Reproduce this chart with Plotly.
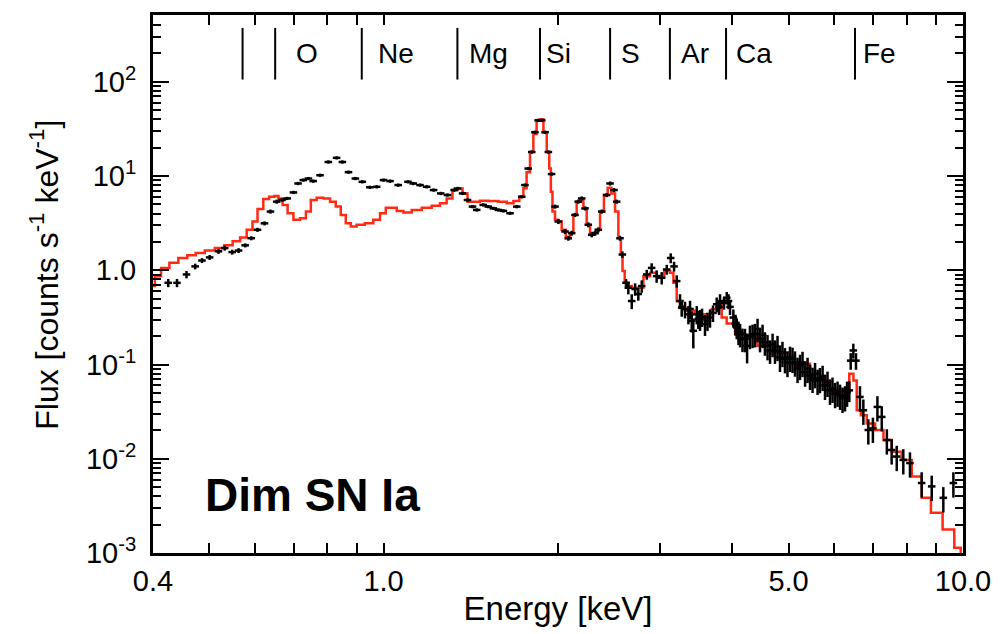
import math
import plotly.graph_objects as go

# ---- model spectrum (red step curve): energy [keV], flux [counts s^-1 keV^-1]
model_energy = [
    0.400, 0.406, 0.420, 0.434, 0.451, 0.466, 0.482, 0.501, 0.522, 0.540,
    0.558, 0.573, 0.588, 0.600, 0.612, 0.628, 0.641, 0.654, 0.663, 0.676,
    0.690, 0.708, 0.727, 0.742, 0.756, 0.777, 0.798, 0.819, 0.835, 0.852,
    0.869, 0.887, 0.910, 0.947, 0.973, 0.999, 1.019, 1.040, 1.068, 1.096,
    1.141, 1.187, 1.235, 1.268, 1.302, 1.328, 1.355, 1.382, 1.410, 1.448,
    1.486, 1.547, 1.610, 1.653, 1.698, 1.732, 1.754, 1.777, 1.802, 1.825,
    1.849, 1.875, 1.900, 1.925, 1.938, 1.950, 1.963, 1.990, 2.016, 2.043,
    2.084, 2.112, 2.140, 2.168, 2.198, 2.227, 2.256, 2.287, 2.318, 2.348,
    2.380, 2.421, 2.453, 2.492, 2.526, 2.559, 2.576, 2.593, 2.621, 2.663,
    2.698, 2.771, 2.846, 2.922, 3.000, 3.101, 3.143, 3.185, 3.226, 3.270,
    3.358, 3.517, 3.635, 3.733, 3.808, 3.858, 3.962, 4.124, 4.288, 4.551,
    4.832, 5.232, 5.664, 6.136, 6.300, 6.428, 6.512, 6.598, 6.730, 6.913,
    7.193, 7.389, 7.685, 7.997, 8.321, 8.659, 8.951, 9.501, 9.820, 10.0,
]
model_flux = [
    0.68, 0.867, 1.06, 1.20, 1.35, 1.44, 1.53, 1.62, 1.72, 1.84,
    2.03, 2.23, 2.69, 3.29, 4.48, 5.71, 6.04, 6.14, 5.79, 4.94,
    4.03, 3.43, 3.57, 4.20, 5.57, 5.89, 5.79, 5.35, 4.74, 3.87,
    3.16, 2.92, 3.04, 3.16, 3.43, 4.03, 4.62, 4.62, 4.27, 4.10,
    4.37, 4.62, 4.85, 5.13, 5.79, 7.10, 7.38, 6.54, 5.35, 5.35,
    5.48, 5.44, 5.35, 5.13, 5.44, 6.0, 7.4, 11.0, 18.0, 28.0,
    39.0, 40.0, 29.0, 18.0, 12.0, 6.8, 4.2, 3.43, 3.29, 2.69,
    2.19, 2.48, 3.87, 5.35, 5.57, 4.54, 3.04, 2.48, 2.48, 2.69,
    4.20, 6.29, 7.51, 6.54, 4.20, 2.19, 1.47, 0.98, 0.736, 0.68,
    0.653, 0.653, 0.867, 0.939, 0.867, 0.98, 0.939, 0.736, 0.472, 0.418,
    0.371, 0.342, 0.342, 0.386, 0.436, 0.315, 0.272, 0.211, 0.194, 0.158,
    0.135, 0.1017, 0.0678, 0.0532, 0.0532, 0.0798, 0.0678, 0.0327, 0.0290, 0.0237,
    0.0202, 0.0158, 0.0119, 0.00973, 0.00649, 0.00385, 0.00267, 0.00178, 0.00114, 0.0005,
]

# ---- observed spectrum (black crosses)
obs_energy = [
    0.425, 0.440, 0.457, 0.473, 0.486, 0.501, 0.519, 0.532, 0.548, 0.562,
    0.577, 0.591, 0.606, 0.623, 0.638, 0.654, 0.668, 0.682, 0.699, 0.712,
    0.727, 0.742, 0.756, 0.777, 0.803, 0.830, 0.849, 0.870, 0.894, 0.919,
    0.947, 0.973, 1.000, 1.026, 1.060, 1.102, 1.125, 1.156, 1.187, 1.220,
    1.255, 1.289, 1.324, 1.342, 1.369, 1.396, 1.424, 1.448, 1.486, 1.516,
    1.547, 1.578, 1.610, 1.653, 1.698, 1.732, 1.754, 1.777, 1.802, 1.825,
    1.849, 1.875, 1.900, 1.925, 1.950, 1.977, 2.003, 2.057, 2.084, 2.112,
    2.140, 2.168, 2.198, 2.227, 2.256, 2.287, 2.318, 2.348, 2.380, 2.427,
    2.460, 2.499, 2.526, 2.559, 2.583, 2.621, 2.645, 2.681, 2.717, 2.752,
    2.790, 2.846, 2.902, 2.960, 3.020, 3.081, 3.130, 3.172, 3.206, 3.248,
    3.270, 3.313, 3.358, 3.380, 3.403, 3.424, 3.471, 3.493, 3.517, 3.545,
    3.587, 3.623, 3.659, 3.703, 3.758, 3.793, 3.808, 3.869, 3.911, 3.938,
    3.962, 4.015, 4.049, 4.069, 4.097, 4.124, 4.163, 4.205, 4.240, 4.288,
    4.333, 4.375, 4.420, 4.463, 4.509, 4.551, 4.599, 4.645, 4.692, 4.737,
    4.785, 4.832, 4.880, 4.929, 4.978, 5.028, 5.079, 5.129, 5.182, 5.232,
    5.285, 5.339, 5.392, 5.445, 5.500, 5.555, 5.611, 5.664, 5.724, 5.779,
    5.837, 5.895, 5.954, 6.015, 6.075, 6.136, 6.196, 6.257, 6.308, 6.365,
    6.400, 6.467, 6.536, 6.640, 6.730, 6.864, 6.990, 7.117, 7.241, 7.389,
    7.531, 7.685, 7.888, 8.100, 8.485, 8.831, 9.248, 9.625,
]
obs_flux = [
    0.736, 0.736, 0.903, 1.10, 1.27, 1.37, 1.59, 1.72, 1.56, 1.62,
    1.84, 2.19, 2.69, 3.15, 4.20, 5.35, 5.57, 5.79, 6.70, 8.34,
    9.06, 9.41, 8.84, 10.2, 14.1, 15.6, 14.1, 11.0, 9.41, 8.69,
    7.60, 7.69, 9.06, 8.84, 8.02, 8.69, 8.34, 8.02, 7.69, 7.10,
    6.54, 6.29, 7.10, 7.38, 6.54, 5.57, 4.74, 4.37, 4.94, 4.74,
    4.54, 4.37, 4.27, 4.03, 4.74, 6.04, 8.02, 12.0, 18.0, 29.2,
    39.0, 39.0, 29.2, 18.0, 10.5, 4.74, 3.29, 2.58, 2.19, 2.48,
    3.87, 5.35, 5.79, 4.54, 3.04, 2.38, 2.48, 2.69, 4.20, 6.29,
    8.34, 7.10, 5.35, 2.19, 1.47, 0.736, 0.653, 0.472, 0.632, 0.560,
    0.680, 0.903, 1.06, 0.867, 0.832, 1.02, 1.35, 1.10, 0.768, 0.472,
    0.402, 0.386, 0.342, 0.389, 0.291, 0.228, 0.342, 0.305, 0.303, 0.321,
    0.268, 0.291, 0.315, 0.353, 0.436, 0.409, 0.472, 0.450, 0.512, 0.472,
    0.409, 0.315, 0.270, 0.247, 0.223, 0.211, 0.188, 0.187, 0.158, 0.202,
    0.207, 0.211, 0.239, 0.187, 0.207, 0.172, 0.158, 0.141, 0.166, 0.141,
    0.155, 0.119, 0.134, 0.115, 0.105, 0.119, 0.116, 0.106, 0.0908, 0.0976,
    0.105, 0.083, 0.0908, 0.0766, 0.0712, 0.0798, 0.0678, 0.0707, 0.0747, 0.0601,
    0.0646, 0.0532, 0.0559, 0.0491, 0.0507, 0.0471, 0.0438, 0.0453, 0.0507, 0.0532,
    0.110, 0.141, 0.110, 0.0453, 0.0327, 0.0202, 0.0210, 0.0355, 0.0278, 0.0158,
    0.0124, 0.01055, 0.00973, 0.0090, 0.00553, 0.00509, 0.00385, 0.00553,
]
# fractional 1-sigma uncertainty of each observed bin
obs_rel_err = [
    0.10, 0.10, 0.09, 0.07, 0.06, 0.06, 0.06, 0.06, 0.06, 0.06,
    0.05, 0.05, 0.05, 0.05, 0.05, 0.05, 0.04, 0.04, 0.04, 0.04,
    0.04, 0.04, 0.04, 0.04, 0.04, 0.04, 0.04, 0.04, 0.04, 0.04,
    0.04, 0.04, 0.04, 0.04, 0.04, 0.04, 0.04, 0.04, 0.04, 0.04,
    0.04, 0.04, 0.04, 0.04, 0.04, 0.04, 0.04, 0.04, 0.04, 0.04,
    0.04, 0.04, 0.04, 0.04, 0.04, 0.04, 0.04, 0.04, 0.04, 0.04,
    0.04, 0.04, 0.04, 0.04, 0.04, 0.05, 0.06, 0.06, 0.06, 0.06,
    0.05, 0.05, 0.05, 0.05, 0.06, 0.06, 0.06, 0.06, 0.05, 0.05,
    0.05, 0.05, 0.05, 0.06, 0.08, 0.10, 0.15, 0.18, 0.15, 0.15,
    0.15, 0.12, 0.12, 0.15, 0.15, 0.12, 0.12, 0.12, 0.15, 0.18,
    0.20, 0.20, 0.22, 0.22, 0.25, 0.35, 0.22, 0.22, 0.25, 0.22,
    0.25, 0.22, 0.22, 0.20, 0.18, 0.18, 0.18, 0.15, 0.15, 0.18,
    0.18, 0.22, 0.25, 0.25, 0.28, 0.28, 0.28, 0.28, 0.35, 0.28,
    0.28, 0.28, 0.28, 0.28, 0.28, 0.28, 0.30, 0.28, 0.28, 0.28,
    0.30, 0.30, 0.30, 0.30, 0.30, 0.30, 0.30, 0.30, 0.30, 0.30,
    0.30, 0.30, 0.30, 0.30, 0.30, 0.30, 0.30, 0.30, 0.30, 0.30,
    0.30, 0.30, 0.30, 0.30, 0.30, 0.30, 0.30, 0.30, 0.30, 0.25,
    0.20, 0.18, 0.20, 0.30, 0.30, 0.30, 0.30, 0.30, 0.30, 0.30,
    0.30, 0.30, 0.30, 0.30, 0.30, 0.30, 0.30, 0.30,
]

# ---- emission-line markers along the top of the frame
line_energy = [0.571, 0.650, 0.917, 1.341, 1.862, 2.46, 3.12, 3.90, 6.51]
label_text = ["O", "Ne", "Mg", "Si", "S", "Ar", "Ca", "Fe"]
label_energy = [0.738, 0.917, 1.341, 1.862, 2.46, 3.12, 3.90, 6.51]
label_shift = [0, 14, 10, 4, 9, 9, 8, 6]

# ---- axis ticks
x_tick_vals = [0.4, 1.0, 5.0, 10.0]
x_tick_text = ["0.4", "1.0", "5.0", "10.0"]
x_minor_vals = [0.5, 0.6, 0.7, 0.8, 0.9, 2, 3, 4, 6, 7, 8, 9]
y_tick_vals = [1e-3, 1e-2, 1e-1, 1.0, 10.0, 100.0]
y_tick_text = ["10<sup>-3</sup>", "10<sup>-2</sup>", "10<sup>-1</sup>", "1.0",
               "10<sup>1</sup>", "10<sup>2</sup>"]
y_minor_vals = [m * 10.0 ** e for e in range(-3, 3) for m in range(2, 10)]

FONT = "Liberation Sans, Arial, Helvetica, sans-serif"
RED = "#ff2a14"

fig = go.Figure()
fig.add_trace(go.Scatter(
    x=model_energy, y=model_flux, mode="lines",
    line=dict(color=RED, width=2.5, shape="hvh"),
    showlegend=False, hoverinfo="skip",
))
fig.add_trace(go.Scatter(
    x=obs_energy, y=obs_flux, mode="markers",
    marker=dict(size=1, color="black"),
    error_x=dict(type="percent", value=1.5, thickness=2.5, width=0, color="black"),
    error_y=dict(type="data", array=[f * r for f, r in zip(obs_flux, obs_rel_err)],
                 thickness=2.5, width=0, color="black"),
    showlegend=False,
))

# vertical markers (shape coordinates on a log axis are given in data units)
for e in line_energy:
    fig.add_shape(type="line", xref="x", yref="paper",
                  x0=e, x1=e, y0=0.880, y1=0.976,
                  line=dict(color="black", width=2))

for txt, e, dx in zip(label_text, label_energy, label_shift):
    fig.add_annotation(x=math.log10(e), y=0.928, xref="x", yref="paper",
                       text=txt, showarrow=False,
                       xanchor="center" if dx == 0 else "left", xshift=dx,
                       yanchor="middle", font=dict(family=FONT, size=28, color="black"))

fig.add_annotation(x=0.062, y=0.107, xref="paper", yref="paper",
                   text="<b>Dim SN Ia</b>", showarrow=False,
                   xanchor="left", yanchor="middle",
                   font=dict(family=FONT, size=46, color="black"))

# y-axis title, drawn as a rotated annotation
fig.add_annotation(x=-0.134, y=0.518, xref="paper", yref="paper",
                   text="Flux [counts s<sup>-1</sup> keV<sup>-1</sup>]",
                   textangle=-90, showarrow=False,
                   xanchor="center", yanchor="middle",
                   font=dict(family=FONT, size=32, color="black"))

axis_common = dict(
    showline=True, linewidth=3, linecolor="black", mirror="allticks",
    ticks="inside", tickcolor="black", tickwidth=2,
    showgrid=False, zeroline=False,
)

fig.update_xaxes(
    type="log", range=[math.log10(0.4), 1.0],
    tickmode="array", tickvals=x_tick_vals, ticktext=x_tick_text, ticklen=10,
    tickfont=dict(family=FONT, size=29, color="black"),
    minor=dict(tickmode="array", tickvals=x_minor_vals, ticks="inside",
               ticklen=10, tickwidth=2, tickcolor="black", showgrid=False),
    title=dict(text="Energy [keV]", font=dict(family=FONT, size=33, color="black"),
               standoff=2),
    **axis_common,
)
fig.update_yaxes(
    type="log", range=[-3, 2.709],
    tickmode="array", tickvals=y_tick_vals, ticktext=y_tick_text, ticklen=16,
    tickfont=dict(family=FONT, size=29, color="black"),
    ticklabelstandoff=8,
    minor=dict(tickmode="array", tickvals=y_minor_vals, ticks="inside",
               ticklen=8, tickwidth=2, tickcolor="black", showgrid=False),
    **axis_common,
)

fig.update_layout(
    width=1006, height=634,
    margin=dict(l=153, r=43, t=12, b=81),
    plot_bgcolor="white", paper_bgcolor="white",
    font=dict(family=FONT, color="black"),
)

fig.write_html("out.html")
